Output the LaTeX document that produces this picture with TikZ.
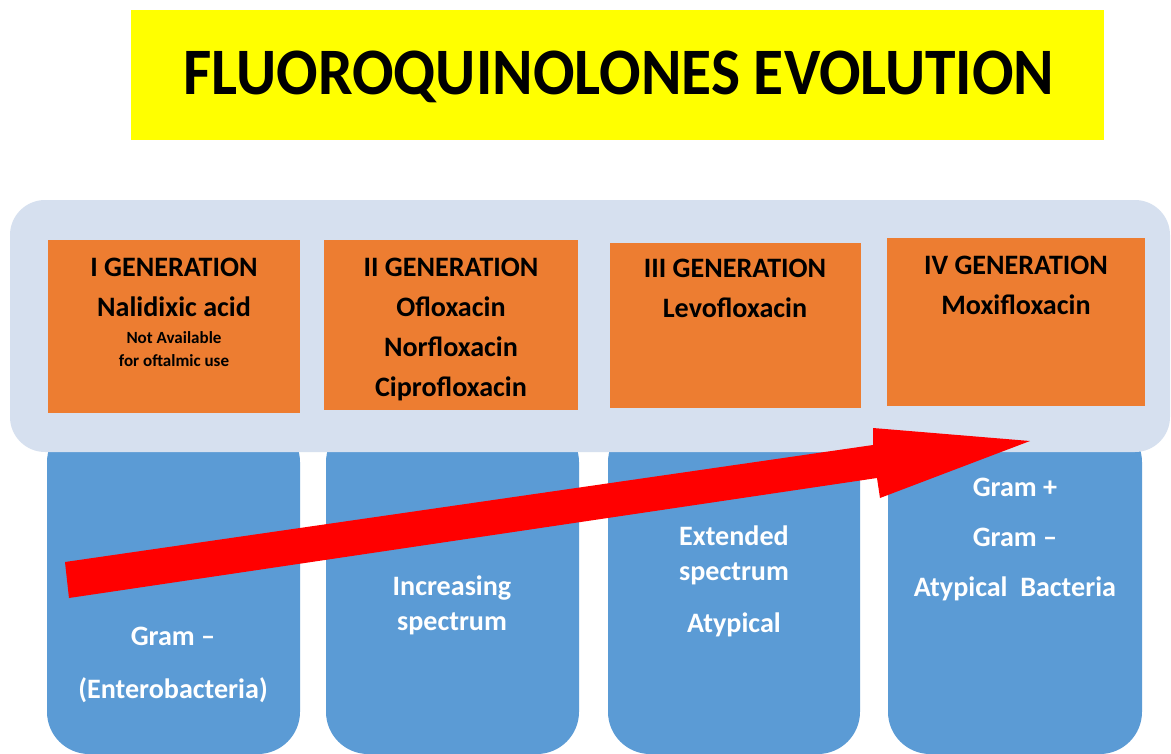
\documentclass[tikz,border=0pt]{standalone}
\usepackage{graphicx}
\usepackage{fontspec}
\setmainfont{Carlito}
\definecolor{titleyellow}{RGB}{255,255,0}
\definecolor{panelblue}{RGB}{214,224,239}
\definecolor{genorange}{RGB}{237,125,49}
\definecolor{specblue}{RGB}{91,155,213}
\definecolor{arrowred}{RGB}{255,0,0}
\begin{document}
\begin{tikzpicture}[x=0.02cm,y=-0.02cm,
  titletext/.style={font=\fontsize{35}{40}\selectfont\bfseries,anchor=base,inner sep=0pt,text=black},
  gen/.style={font=\fontsize{16}{22.8}\selectfont\bfseries,anchor=base,inner sep=0pt,text=black},
  note/.style={font=\fontsize{9.7}{13}\selectfont\bfseries,anchor=base,inner sep=0pt,text=black},
  spec/.style={font=\fontsize{16}{22.8}\selectfont\bfseries,anchor=base,inner sep=0pt,text=white},
  column/.style={fill=specblue,rounded corners=24},
  genbox/.style={fill=genorange},
]
\useasboundingbox (0,0) rectangle (1171,754);
\fill[white] (0,0) rectangle (1171,754);

% title banner
\fill[titleyellow] (131,10) rectangle (1104,140);
\node[titletext] (title) at (619,94) {\scalebox{1}[1.08]{FLUOROQUINOLONES EVOLUTION}};

% spectrum columns (their tops run under the panel)
\fill[column] (47,420) rectangle (300,754);
\fill[column] (326,420) rectangle (579,754);
\fill[column] (608,420) rectangle (860,754);
\fill[column] (888,420) rectangle (1142,754);

% panel holding the generations
\fill[panelblue,rounded corners=20] (10,200) rectangle (1170,452);

% generation boxes
\fill[genbox] (48,240) rectangle (300,413);
\fill[genbox] (324,240) rectangle (578,410);
\fill[genbox] (610,243) rectangle (861,408);
\fill[genbox] (887,238) rectangle (1145,406);

% I generation
\node[gen] (g1a) at (174,276) {I GENERATION};
\node[gen] (g1b) at (174,316) {Nalidixic acid};
\node[note] (g1c) at (174,343) {Not Available};
\node[note] (g1d) at (174,366) {for oftalmic use};

% II generation
\node[gen] (g2a) at (451,276) {II GENERATION};
\node[gen] (g2b) at (451,316) {Ofloxacin};
\node[gen] (g2c) at (451,356) {Norfloxacin};
\node[gen] (g2d) at (451,396) {Ciprofloxacin};

% III generation
\node[gen] (g3a) at (735,277) {III GENERATION};
\node[gen] (g3b) at (735,317) {Levofloxacin};

% IV generation
\node[gen] (g4a) at (1016,274) {IV GENERATION};
\node[gen] (g4b) at (1016,314) {Moxifloxacin};

% spectrum texts
\node[spec] (s1a) at (173,645) {Gram –};
\node[spec] (s1b) at (173,698) {(Enterobacteria)};
\node[spec] (s2a) at (452,595) {Increasing};
\node[spec] (s2b) at (452,630) {spectrum};
\node[spec] (s3a) at (734,545) {Extended};
\node[spec] (s3b) at (734,580) {spectrum};
\node[spec] (s3c) at (734,632) {Atypical};
\node[spec] (s4a) at (1015,496) {Gram +};
\node[spec] (s4b) at (1015,546) {Gram –};
\node[spec] (s4c) at (1015,596) {Atypical\ \ Bacteria};

% evolution arrow
\fill[arrowred] (65,562) -- (873,445) -- (873,428) -- (1030,441)
  -- (880,498) -- (877,478) -- (69,598) -- cycle;
\end{tikzpicture}
\end{document}
